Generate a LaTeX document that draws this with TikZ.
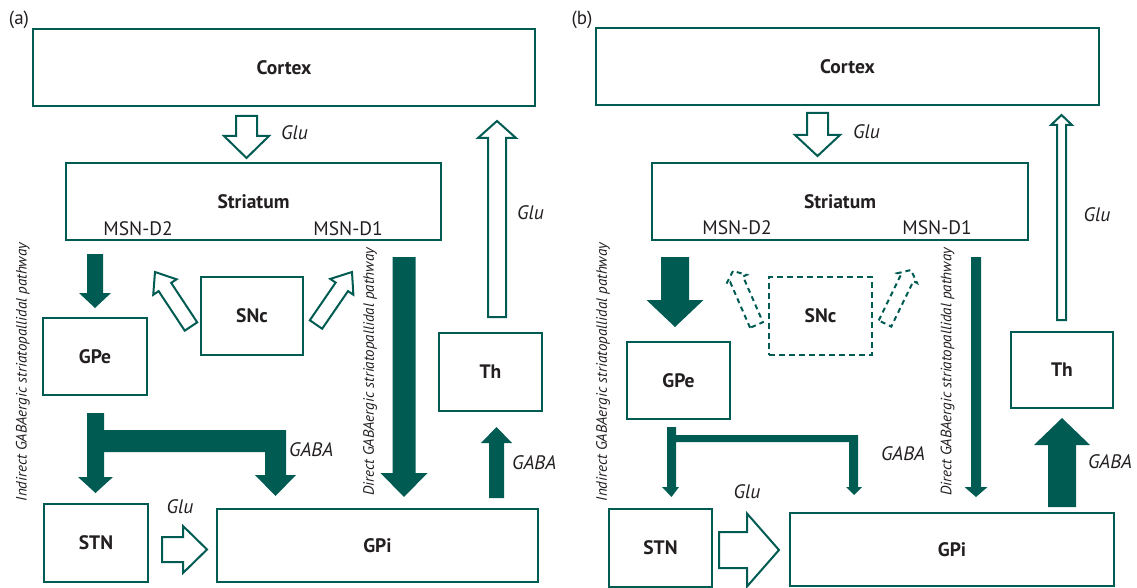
\documentclass[tikz,border=0pt]{standalone}
\usepackage{fontspec}
\setmainfont{PT Sans}
\usetikzlibrary{calc}
\definecolor{tealA}{RGB}{0,91,82}
\definecolor{inkA}{RGB}{35,31,32}
% block arrow: style, tail, tip, half shaft width, half head width, head length
\newcommand{\blockarr}[6]{%
  \coordinate (bh) at ($(#3)!#6!(#2)$);
  \draw[#1] ($(#2)!#4!90:(#3)$) -- ($(bh)!#4!90:(#3)$) -- ($(bh)!#5!90:(#3)$) -- (#3)
     -- ($(bh)!#5!-90:(#3)$) -- ($(bh)!#4!-90:(#3)$) -- ($(#2)!#4!-90:(#3)$) -- cycle;
}
\tikzset{
  box/.style={draw=tealA, line width=2.4pt, fill=white, inner sep=0pt, text=inkA,
    font=\bfseries\fontsize{19.5}{22}\selectfont},
  dbox/.style={box, line width=2pt, dash pattern=on 6pt off 4pt},
  hollow/.style={draw=tealA, fill=white, line width=2pt, line join=miter},
  solidarr/.style={fill=tealA, draw=none},
  dasharr/.style={draw=tealA, fill=white, line width=2pt, dash pattern=on 5pt off 4pt},
  lab/.style={font=\itshape\fontsize{19.5}{22}\selectfont, text=inkA, inner sep=0pt},
  msn/.style={font=\fontsize{19.5}{22}\selectfont, text=inkA, inner sep=0pt},
  panel/.style={font=\fontsize{19}{21}\selectfont, text=inkA, inner sep=0pt},
  pathlab/.style={font=\itshape\fontsize{15}{17}\selectfont, text=inkA, rotate=90, inner sep=0pt}
}
\begin{document}
\begin{tikzpicture}[x=1pt,y=-1pt]
\useasboundingbox (0,0) rectangle (1137,588);
\fill[white] (0,0) rectangle (1137,588);

% ================= panel (a) =================
\node[panel] (pa) at (19,20) {(a)};
\node[box, minimum width=502pt, minimum height=77pt] (cortexA) at (284,67.5) {Cortex};
\node[box, minimum width=375pt, minimum height=77pt] (striatA) at (253.5,201.5) {Striatum};
\node[msn] (d2A) at (138,229) {MSN-D2};
\node[msn] (d1A) at (348,229) {MSN-D1};
\node[box, minimum width=104pt, minimum height=77pt] (gpeA) at (95,356.5) {GPe};
\node[box, minimum width=102pt, minimum height=78pt] (sncA) at (252,316) {SNc};
\node[box, minimum width=103pt, minimum height=78pt] (thA) at (490.5,372) {Th};
\node[box, minimum width=104pt, minimum height=78pt] (stnA) at (96,543) {STN};
\node[box, minimum width=321pt, minimum height=73pt] (gpiA) at (377.5,545.5) {GPi};

\blockarr{hollow}{246.5,116}{246.5,158}{10.5pt}{22.5pt}{22pt}
\node[lab, anchor=west] (gluA1) at (281,133) {Glu};
\blockarr{hollow}{497,317}{497,121}{9pt}{19pt}{17pt}
\node[lab, anchor=west] (gluA2) at (517,213) {Glu};
\blockarr{solidarr}{496.5,498}{496.5,427}{7.5pt}{15.5pt}{16pt}
\node[lab, anchor=west] (gabaA2) at (512,463) {GABA};
\blockarr{solidarr}{404,257}{404,497}{11.5pt}{23.5pt}{24pt}
\blockarr{solidarr}{95,254}{95,308}{8pt}{16pt}{15pt}
\blockarr{hollow}{191,326.5}{155,272}{7.5pt}{14pt}{18pt}
\blockarr{hollow}{316,324.5}{352,272}{7.5pt}{14pt}{18pt}
\blockarr{hollow}{162,549.5}{207,549.5}{12.5pt}{23.5pt}{24pt}
\node[lab] (gluA3) at (180,507) {Glu};
\fill[tealA] (87,413) -- (104,413) -- (104,430) -- (286,430) -- (286,475) -- (296,475)
  -- (275.5,496) -- (255,475) -- (265,475) -- (265,452) -- (104,452) -- (104,477)
  -- (113,477) -- (95.5,493) -- (78,477) -- (87,477) -- cycle;
\node[lab, anchor=west] (gabaA1) at (289,450) {GABA};
\node[pathlab] (indA) at (23,372) {Indirect GABAergic striatopallidal pathway};
\node[pathlab] (dirA) at (370,372) {Direct GABAergic striatopallidal pathway};

% ================= panel (b) =================
\node[panel] (pb) at (582,20) {(b)};
\node[box, minimum width=503pt, minimum height=77pt] (cortexB) at (847.5,66.5) {Cortex};
\node[box, minimum width=376pt, minimum height=77pt] (striatB) at (840,201.5) {Striatum};
\node[msn] (d2B) at (737,228) {MSN-D2};
\node[msn] (d1B) at (937,228) {MSN-D1};
\node[box, minimum width=103pt, minimum height=77pt] (gpeB) at (678.5,380.5) {GPe};
\node[dbox, minimum width=103pt, minimum height=78pt] (sncB) at (820.5,316) {SNc};
\node[box, minimum width=102pt, minimum height=76pt] (thB) at (1062,370) {Th};
\node[box, minimum width=103pt, minimum height=78pt] (stnB) at (660.5,548) {STN};
\node[box, minimum width=324pt, minimum height=73pt] (gpiB) at (952,549.5) {GPi};

\blockarr{hollow}{817.5,113}{817.5,156}{10.5pt}{22.5pt}{21pt}
\node[lab, anchor=west] (gluB1) at (853,132) {Glu};
\blockarr{hollow}{1061.5,320}{1061.5,115}{4.5pt}{10.5pt}{10pt}
\node[lab] (gluB2) at (1097,215) {Glu};
\blockarr{solidarr}{1062,507}{1062,418}{14pt}{28pt}{27pt}
\node[lab] (gabaB2) at (1110,462) {GABA};
\blockarr{solidarr}{976,257}{976,497}{5pt}{11.5pt}{10pt}
\blockarr{solidarr}{675,257}{675,327}{14pt}{28.5pt}{27pt}
\blockarr{dasharr}{756.5,325}{733,271}{7pt}{11pt}{9pt}
\blockarr{dasharr}{885,323.5}{911,270}{7pt}{11pt}{9pt}
\blockarr{hollow}{719,550}{779,550}{18pt}{36.5pt}{32pt}
\node[lab] (gluB3) at (747,492) {Glu};
\fill[tealA] (667,427) -- (676,427) -- (676,435) -- (858,435) -- (858,487) -- (862,487)
  -- (854,495) -- (846,487) -- (849,487) -- (849,442) -- (676,442) -- (676,487)
  -- (679,487) -- (671.5,497) -- (662,487) -- (667,487) -- cycle;
\node[lab] (gabaB1) at (903,454) {GABA};
\node[pathlab] (indB) at (603,372) {Indirect GABAergic striatopallidal pathway};
\node[pathlab] (dirB) at (947.5,372) {Direct GABAergic striatopallidal pathway};
\end{tikzpicture}
\end{document}
